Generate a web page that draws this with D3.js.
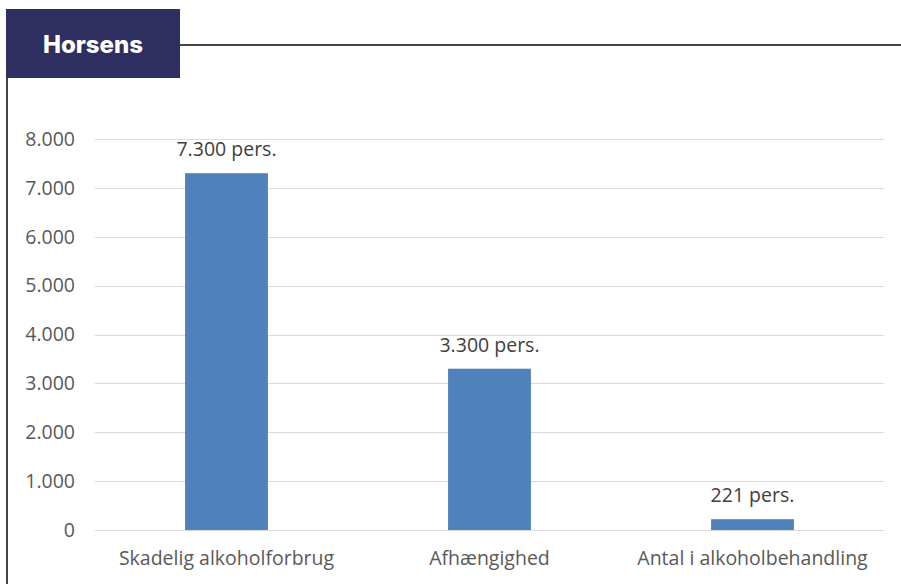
<!DOCTYPE html>
<html>
<head>
<meta charset="utf-8">
<script src="https://cdn.jsdelivr.net/npm/d3@7"></script>
<style>
  body { margin: 0; background: #fff; }
  svg { display: block; }
</style>
</head>
<body>
<div id="container"></div>
<script>
/**
 * DATA
 * */
const categories = ["Skadelig alkoholforbrug", "Afhængighed", "Antal i alkoholbehandling"];
const values = [7300, 3300, 221];
const valueLabels = ["7.300 pers.", "3.300 pers.", "221 pers."];
const yTicks = [0, 1000, 2000, 3000, 4000, 5000, 6000, 7000, 8000];
const title = "Horsens";

/**
 * CONSTANTS
 * */
const width = 901,
  height = 584,
  margin = { top: 139, bottom: 54, left: 95, right: 17 };
const font = "'Open Sans', 'Noto Sans', sans-serif";
const fontSize = "19.5px";

const svg = d3.select("#container")
  .append("svg")
  .attr("width", width)
  .attr("height", height);

// frame lines
svg.append("line")
  .attr("x1", 180).attr("x2", width)
  .attr("y1", 45).attr("y2", 45)
  .attr("stroke", "#444").attr("stroke-width", 2);
svg.append("line")
  .attr("x1", 7).attr("x2", 7)
  .attr("y1", 78).attr("y2", height)
  .attr("stroke", "#444").attr("stroke-width", 2);

// title box
svg.append("rect")
  .attr("x", 6).attr("y", 9)
  .attr("width", 174).attr("height", 69)
  .attr("fill", "#2e2f60");
svg.append("text")
  .attr("x", 93).attr("y", 44)
  .attr("text-anchor", "middle")
  .attr("dominant-baseline", "central")
  .attr("fill", "#fff")
  .style("font-family", "Inter, 'Open Sans', sans-serif")
  .style("font-weight", 800)
  .style("font-size", "24px")
  .text(title);

const x = d3.scaleBand()
  .domain(categories)
  .range([margin.left, width - margin.right])
  .paddingInner(0.685)
  .paddingOuter(0.3425);

const y = d3.scaleLinear()
  .domain([0, 8000])
  .range([height - margin.bottom, margin.top]);

const fmt = d3.formatLocale({ decimal: ",", thousands: ".", grouping: [3], currency: ["", ""] }).format(",d");

// gridlines
svg.selectAll("line.grid")
  .data(yTicks)
  .join("line")
  .attr("class", "grid")
  .attr("x1", margin.left).attr("x2", width - margin.right)
  .attr("y1", d => Math.round(y(d)) + 0.5).attr("y2", d => Math.round(y(d)) + 0.5)
  .attr("stroke", "#d9d9d9");

// y axis labels
const yAxis = svg.append("g")
  .attr("transform", `translate(${margin.left - 20},0)`)
  .call(d3.axisLeft(y).tickValues(yTicks).tickFormat(fmt).tickSize(0).tickPadding(0));
yAxis.select(".domain").remove();
yAxis.selectAll("text")
  .attr("fill", "#595959")
  .style("font-family", font)
  .style("font-size", fontSize);

// bars
svg.selectAll("rect.bar")
  .data(values)
  .join("rect")
  .attr("class", "bar")
  .attr("x", (d, i) => x(categories[i]))
  .attr("y", d => y(d))
  .attr("width", x.bandwidth())
  .attr("height", d => y(0) - y(d))
  .attr("fill", "#4f81bd");

// value labels
svg.selectAll("text.value")
  .data(values)
  .join("text")
  .attr("class", "value")
  .attr("x", (d, i) => x(categories[i]) + x.bandwidth() / 2)
  .attr("y", d => y(d) - 17)
  .attr("text-anchor", "middle")
  .attr("fill", "#404040")
  .style("font-family", font)
  .style("font-size", fontSize)
  .text((d, i) => valueLabels[i]);

// x axis labels
const xAxis = svg.append("g")
  .attr("transform", `translate(0,${height - margin.bottom})`)
  .call(d3.axisBottom(x).tickSize(0).tickPadding(21));
xAxis.select(".domain").remove();
xAxis.selectAll("text")
  .attr("fill", "#595959")
  .style("font-family", font)
  .style("font-size", fontSize);
</script>
</body>
</html>
